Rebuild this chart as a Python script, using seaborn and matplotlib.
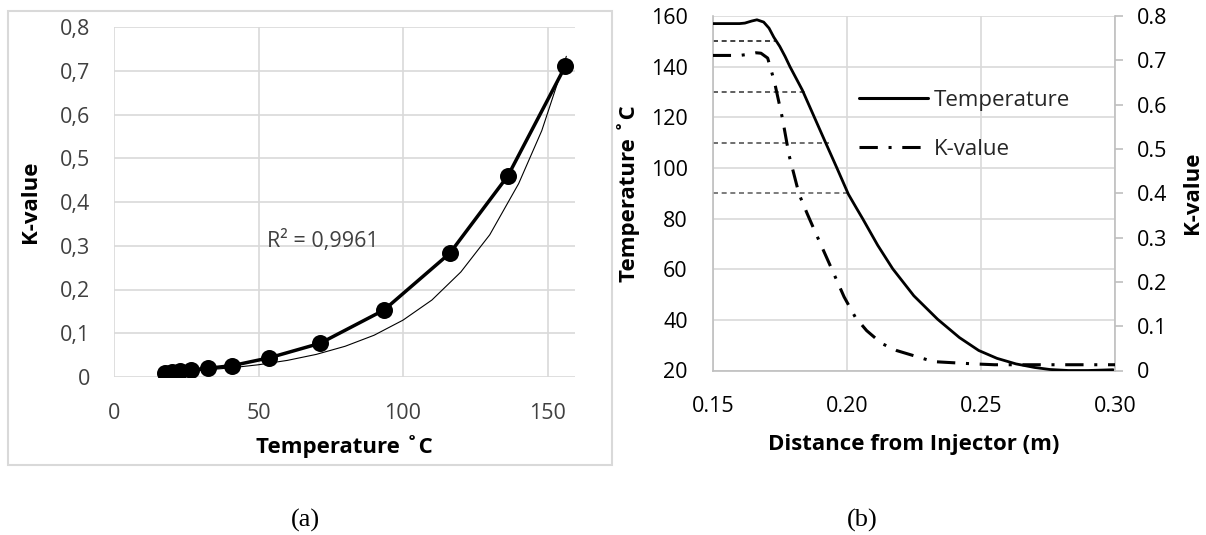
import numpy as np
import matplotlib
matplotlib.use("Agg")
import matplotlib.pyplot as plt
import seaborn as sns
from matplotlib.patches import Rectangle
from matplotlib.lines import Line2D

# ---------------- data: panel (a) ----------------
temp_a = [17.8, 20.0, 22.8, 26.8, 32.5, 40.9, 53.8, 71.3, 93.4, 116.2, 136.3, 156.1]
kval_a = [0.010, 0.012, 0.014, 0.016, 0.020, 0.026, 0.044, 0.077, 0.153, 0.283, 0.460, 0.710]
# exponential trend line
trend_x = [17.8, 30, 40, 50, 60, 70, 80, 90, 100, 110, 120, 130, 140, 148, 156.5]
trend_y = [0.0104, 0.0152, 0.0206, 0.0280, 0.0380, 0.0517, 0.0703, 0.0955, 0.130,
           0.176, 0.240, 0.325, 0.442, 0.563, 0.733]
xticks_a = [0, 50, 100, 150]
xticklabels_a = ["0", "50", "100", "150"]
yticks_a = [0, 0.1, 0.2, 0.3, 0.4, 0.5, 0.6, 0.7, 0.8]
yticklabels_a = ["0", "0,1", "0,2", "0,3", "0,4", "0,5", "0,6", "0,7", "0,8"]
r2_text = "R² = 0,9961"

# ---------------- data: panel (b) ----------------
dist_t = [0.150, 0.156, 0.160, 0.162, 0.1645, 0.1665, 0.169, 0.171, 0.1728, 0.175,
          0.177, 0.1788, 0.1834, 0.1877, 0.192, 0.1963, 0.2006, 0.2035, 0.206, 0.2115, 0.2171,
          0.225, 0.2339, 0.242, 0.2492, 0.256, 0.2631, 0.270, 0.2757, 0.2826, 0.290, 0.2993]
temp_b = [157.0, 157.0, 157.0, 157.2, 158.0, 158.5, 157.6, 155.2, 151.6, 148.0,
          144.0, 140.0, 130.8, 120.5, 110.2, 100.0, 89.6, 84.3, 79.8, 69.5, 60.2,
          49.5, 40.2, 33.0, 27.9, 24.8, 22.6, 21.2, 20.4, 20.0, 20.0, 20.3]
dist_k = [0.150, 0.155, 0.160, 0.164, 0.1662, 0.168, 0.1705, 0.173, 0.176, 0.1785,
          0.1822, 0.1853, 0.1879, 0.1935, 0.199, 0.2032, 0.2074, 0.213, 0.2186, 0.2323,
          0.2472, 0.255, 0.2687, 0.2826, 0.300]
kval_b = [0.711, 0.711, 0.711, 0.714, 0.717, 0.716, 0.705, 0.652, 0.569, 0.485,
          0.398, 0.353, 0.317, 0.241, 0.166, 0.120, 0.090, 0.061, 0.045, 0.020,
          0.015, 0.013, 0.013, 0.013, 0.013]
ref_start = 0.15
ref_levels = [150, 130, 110, 90]
ref_ends = [0.1735, 0.1845, 0.1935, 0.2005]
ref_colors = ["#222222", "#444444", "#555555", "#666666"]
xticks_b = [0.15, 0.20, 0.25, 0.30]
xticklabels_b = ["0.15", "0.20", "0.25", "0.30"]
yticks_b = [20, 40, 60, 80, 100, 120, 140, 160]
yticks_k = [0, 0.1, 0.2, 0.3, 0.4, 0.5, 0.6, 0.7, 0.8]
yticklabels_k = ["0", "0.1", "0.2", "0.3", "0.4", "0.5", "0.6", "0.7", "0.8"]

# ---------------- styling ----------------
sns.set_theme(style="white")
plt.rcParams["font.family"] = ["Open Sans", "DejaVu Sans"]

W, H = 1206, 535
fig = plt.figure(figsize=(W / 100, H / 100), dpi=100)


def box(l, t, r, b):
    return [l / W, 1 - b / H, (r - l) / W, (b - t) / H]


GRID = "#d9d9d9"
TICK_FS = 15.5
LABEL_FS = 16

# ---------------- panel (a) ----------------
axL = fig.add_axes(box(114, 27, 575, 377))
sns.lineplot(x=trend_x, y=trend_y, ax=axL, color="black", lw=0.8, legend=False, zorder=2)
sns.lineplot(x=temp_a, y=kval_a, ax=axL, color="black", lw=2.5, legend=False, zorder=3)
sns.scatterplot(x=temp_a, y=kval_a, ax=axL, color="black", s=150, edgecolor="black",
                linewidth=0, legend=False, zorder=4)
axL.set_xlim(0, 159.5)
axL.set_ylim(0, 0.8)
axL.set_xticks(xticks_a)
axL.set_xticklabels(xticklabels_a)
axL.set_yticks(yticks_a)
axL.set_yticklabels(yticklabels_a)
axL.grid(True, color=GRID, lw=1.2)
for s in axL.spines.values():
    s.set_visible(False)
axL.tick_params(axis="both", length=0, labelsize=TICK_FS, labelcolor="#404040")
axL.tick_params(axis="y", pad=17)
axL.tick_params(axis="x", pad=19)
axL.set_xlabel("Temperature ˚C", fontsize=LABEL_FS, fontweight="bold", color="black")
axL.set_ylabel("K-value", fontsize=LABEL_FS, fontweight="bold", color="black")
axL.xaxis.set_label_coords(0.5, -0.165)
axL.yaxis.set_label_coords(-0.158, 0.5)
axL.text(53.1, 0.311, r2_text, fontsize=TICK_FS, color="#404040", ha="left", va="center")

fig.add_artist(Rectangle((8 / W, 1 - 465 / H), (612 - 8) / W, (465 - 11) / H,
                         transform=fig.transFigure, fill=False, ec=GRID, lw=1.5))

# ---------------- panel (b) ----------------
axR = fig.add_axes(box(712.7, 16, 1115, 370.5))
axK = axR.twinx()
DASHDOT = (0, (6, 3.5, 1, 3.5))
for lvl, end, c in zip(ref_levels, ref_ends, ref_colors):
    axR.plot([ref_start, end], [lvl, lvl], color=c, lw=1.2, ls=(0, (3, 2.2)), zorder=2)
sns.lineplot(x=dist_t, y=temp_b, ax=axR, color="black", lw=2.0, legend=False, zorder=3)
sns.lineplot(x=dist_k, y=kval_b, ax=axK, color="black", lw=2.2, linestyle=DASHDOT,
             legend=False, zorder=3)

axR.set_xlim(0.15, 0.30)
axR.set_ylim(20, 160)
axK.set_ylim(0, 0.8)
axR.set_xticks(xticks_b)
axR.set_xticklabels(xticklabels_b)
axR.set_yticks(yticks_b)
axK.set_yticks(yticks_k)
axK.set_yticklabels(yticklabels_k)
axR.grid(True, color=GRID, lw=1.2)
axK.grid(False)
for name, s in axR.spines.items():
    s.set_visible(name in ("left", "bottom"))
    s.set_color("#bfbfbf")
    s.set_linewidth(1.2)
for name, s in axK.spines.items():
    s.set_visible(name == "right")
    s.set_color("#bfbfbf")
    s.set_linewidth(1.2)
axR.tick_params(axis="both", length=0, labelsize=TICK_FS, labelcolor="black")
axR.tick_params(axis="y", pad=18)
axR.tick_params(axis="x", pad=18)
axK.tick_params(axis="y", length=6, width=1.2, color="#bfbfbf", direction="out",
                pad=10, labelsize=TICK_FS, labelcolor="black")
axR.set_xlabel("Distance from Injector (m)", fontsize=LABEL_FS, fontweight="bold", color="black")
axR.set_ylabel("Temperature ˚C", fontsize=LABEL_FS, fontweight="bold", color="black")
axK.set_ylabel("K-value", fontsize=LABEL_FS, fontweight="bold", color="black")
axR.xaxis.set_label_coords(0.5, -0.18)
axR.yaxis.set_label_coords(-0.181, 0.5)
axK.yaxis.set_label_coords(1.167, 0.5)

handles = [Line2D([], [], color="black", lw=2.2),
           Line2D([], [], color="black", lw=2.2, ls=DASHDOT)]
axK.legend(handles, ["Temperature", "K-value"], loc="upper left",
           bbox_to_anchor=(859 / W, 1 - 90 / H), bbox_transform=fig.transFigure,
           frameon=False, fontsize=16, handlelength=3.1, handletextpad=0.27,
           labelspacing=1.25, borderpad=0, borderaxespad=0)

fig.text(305 / W, 1 - 520 / H, "(a)", family="Liberation Serif", fontsize=19,
         ha="center", va="center", color="black")
fig.text(862 / W, 1 - 520 / H, "(b)", family="Liberation Serif", fontsize=19,
         ha="center", va="center", color="black")

fig.savefig("out.png", dpi=100)
